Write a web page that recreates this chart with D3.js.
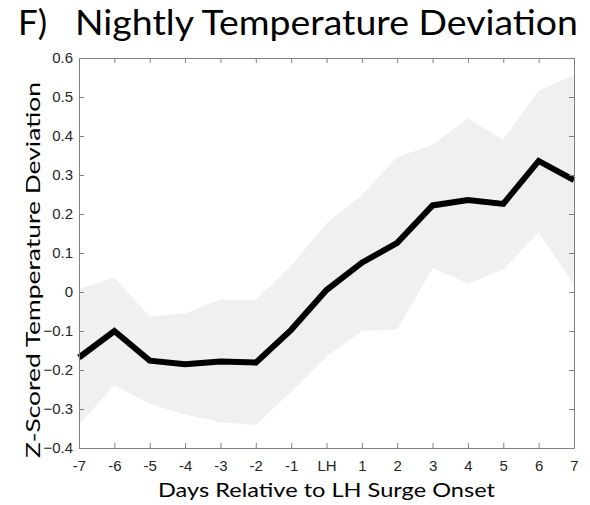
<!DOCTYPE html>
<html><head><meta charset="utf-8">
<script src="https://cdn.jsdelivr.net/npm/d3@7"></script>
<style>body{margin:0;background:#fff}svg{display:block}
.tick text{font-family:'Liberation Sans',Arial,sans-serif;font-size:15px;fill:#262626}</style>
</head><body>
<script>
const days = [-7,-6,-5,-4,-3,-2,-1,0,1,2,3,4,5,6,7];
const dayLabels = ["-7","-6","-5","-4","-3","-2","-1","LH","1","2","3","4","5","6","7"];
const meanValues = [-0.168,-0.100,-0.176,-0.185,-0.178,-0.181,-0.097,0.005,0.075,0.126,0.222,0.236,0.226,0.336,0.287];
const upperValues = [0.008,0.037,-0.063,-0.055,-0.019,-0.020,0.067,0.176,0.249,0.346,0.377,0.445,0.391,0.516,0.556];
const lowerValues = [-0.341,-0.238,-0.287,-0.314,-0.334,-0.341,-0.256,-0.166,-0.100,-0.096,0.061,0.022,0.058,0.152,0.020];
const yTicks = [-0.4,-0.3,-0.2,-0.1,0,0.1,0.2,0.3,0.4,0.5,0.6];

const W=590,H=505;
const m={left:79,right:16,top:58,bottom:57};
const svg=d3.select("body").append("svg").attr("width",W).attr("height",H);
const x=d3.scaleLinear().domain([-7,7]).range([m.left,W-m.right]);
const y=d3.scaleLinear().domain([-0.4,0.6]).range([H-m.bottom,m.top]);

const data=days.map((d,i)=>({d,mean:meanValues[i],lo:lowerValues[i],hi:upperValues[i]}));

svg.append("path").datum(data)
  .attr("d",d3.area().x(p=>x(p.d)).y0(p=>y(p.lo)).y1(p=>y(p.hi)))
  .attr("fill","#f0f0f0");
svg.append("path").datum(data)
  .attr("d",d3.line().x(p=>x(p.d)).y(p=>y(p.mean)))
  .attr("fill","none").attr("stroke","#000").attr("stroke-width",6).attr("stroke-linejoin","miter");

const axisColor="#808080";
function style(g){
  g.attr("font-size",15).attr("font-family","'Liberation Sans',Arial,sans-serif");
  g.select(".domain").attr("stroke",axisColor);
  g.selectAll(".tick line").attr("stroke",axisColor);
}
const fmt=v=>v===0?"0":d3.format(".1f")(v);
svg.append("g").attr("transform",`translate(0,${H-m.bottom})`)
  .call(d3.axisBottom(x).tickValues(days).tickFormat((d,i)=>dayLabels[i]).tickSizeInner(-5).tickSizeOuter(0).tickPadding(12))
  .call(style);
svg.append("g").attr("transform",`translate(0,${m.top})`)
  .call(d3.axisTop(x).tickValues(days).tickFormat("").tickSizeInner(-5).tickSizeOuter(0))
  .call(style);
svg.append("g").attr("transform",`translate(${m.left},0)`)
  .call(d3.axisLeft(y).tickValues(yTicks).tickFormat(fmt).tickSizeInner(-5).tickSizeOuter(0).tickPadding(6))
  .call(style);
svg.append("g").attr("transform",`translate(${W-m.right},0)`)
  .call(d3.axisRight(y).tickValues(yTicks).tickFormat("").tickSizeInner(-5).tickSizeOuter(0))
  .call(style);

const titleFont="Lato,'Open Sans',sans-serif";
svg.append("text").attr("x",18).attr("y",35)
  .attr("font-family",titleFont).attr("font-size",35).attr("fill","#000")
  .text("F)");
svg.append("text").attr("x",75).attr("y",35)
  .attr("font-family",titleFont).attr("font-size",35).attr("fill","#000")
  .attr("textLength",503).attr("lengthAdjust","spacingAndGlyphs")
  .text("Nightly Temperature Deviation");
svg.append("text").attr("x",326.5).attr("y",497).attr("text-anchor","middle")
  .attr("font-family",titleFont).attr("font-size",20).attr("fill","#000")
  .attr("textLength",337).attr("lengthAdjust","spacingAndGlyphs")
  .text("Days Relative to LH Surge Onset");
svg.append("text").attr("transform",`translate(39.5,270) rotate(-90)`).attr("text-anchor","middle")
  .attr("font-family",titleFont).attr("font-size",20).attr("fill","#000")
  .attr("textLength",376).attr("lengthAdjust","spacingAndGlyphs")
  .text("Z-Scored Temperature Deviation");
</script>
</body></html>
